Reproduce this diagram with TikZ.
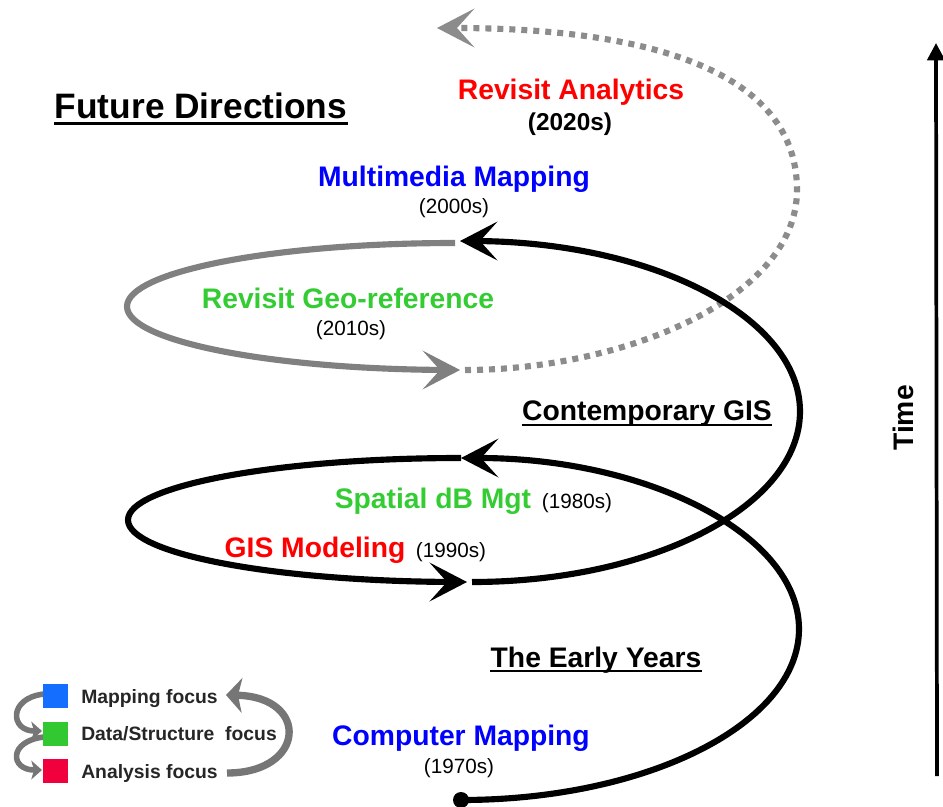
\documentclass[tikz,border=0pt]{standalone}
\usepackage{fontspec}
\setmainfont{Liberation Sans}
\usetikzlibrary{arrows.meta}
\definecolor{lblred}{RGB}{255,0,0}
\definecolor{lblblue}{RGB}{0,0,255}
\definecolor{lblgreen}{RGB}{51,204,51}
\definecolor{loopgray}{RGB}{128,128,128}
\definecolor{dotgray}{RGB}{140,140,140}
\definecolor{leggray}{RGB}{118,118,118}
\definecolor{sqblue}{RGB}{20,110,255}
\definecolor{sqgreen}{RGB}{50,200,50}
\definecolor{sqred}{RGB}{240,0,60}
\begin{document}
\begin{tikzpicture}[x=0.75pt,y=-0.75pt,
  spiral/.style={line width=4.6pt, draw=black},
  greyloop/.style={line width=4.6pt, draw=loopgray},
  dotloop/.style={line width=4.6pt, draw=dotgray, dash pattern=on 4.5pt off 4.5pt},
  barb/.style={-{Stealth[length=28pt,width=29pt,inset=13pt]}},
  lbl/.style={font=\fontsize{21.2}{25}\selectfont\bfseries, inner sep=0pt, anchor=base},
  era/.style={font=\fontsize{15.5}{18}\selectfont, inner sep=0pt, anchor=base},
  heading/.style={lbl, text=black},
  uline/.style={line width=1.6pt},
  legtext/.style={font=\fontsize{14.5}{17}\selectfont\bfseries, text=black!85, inner sep=0pt, anchor=base west},
  legbox/.style={minimum size=18.5pt, inner sep=0pt, draw=none},
  legarrow/.style={draw=leggray, line width=4.2pt, -{Stealth[length=8pt,width=14pt,inset=2pt]}},
  legbig/.style={draw=leggray, line width=5.5pt, -{Stealth[length=12pt,width=26pt,inset=3pt]}},
]
\useasboundingbox (0,0) rectangle (943,807);

% ---- dotted grey outer turn (future) ----
\coordinate (dS) at (465,370);
\coordinate (dR) at (797,190);
\coordinate (dE) at (437,28);
\draw[dotloop, barb] (dS) .. controls (620,370) and (797,300) .. (dR)
  .. controls (797,60) and (620,28) .. (dE);

% ---- solid grey loop ----
\coordinate (gS) at (455,243);
\coordinate (gE) at (460,370);
\draw[greyloop, barb] (gS) arc[start angle=-90, end angle=-270, x radius=328, y radius=63.5] -- (gE);

% ---- black spiral: early years ----
\coordinate (start) at (461,800);
\coordinate (eE) at (461,458);
\draw[spiral, barb] (start) arc[start angle=90, end angle=-90, x radius=338, y radius=171];
\fill (start) circle[radius=6pt];

% ---- black spiral: contemporary left loop ----
\coordinate (cS) at (461,458);
\coordinate (cM) at (461,582);
\coordinate (cE) at (467,582);
\draw[spiral, barb] (cS) arc[start angle=-90, end angle=-270, x radius=333, y radius=62] -- (cE);

% ---- black spiral: contemporary right turn ----
\coordinate (rS) at (472,582);
\coordinate (rE) at (460,241);
\draw[spiral, barb] (rS) arc[start angle=90, end angle=-90, x radius=328, y radius=170.5] -- (rE);

% ---- time axis ----
\coordinate (tb) at (937,776);
\coordinate (tt) at (936,43);
\draw[line width=2.8pt, -{Triangle[length=13pt,width=13pt]}] (tb) -- (tt);
\node[lbl, anchor=center, rotate=90] (time) at (903,418) {Time};

% ---- labels ----
\node[heading, font=\fontsize{26.5}{30}\selectfont\bfseries] (fd) at (201,118) {Future Directions};
\draw[line width=2.2pt] ([yshift=-3.8pt]fd.base west) -- ([yshift=-3.8pt]fd.base east);

\node[lbl, text=lblred] (ra) at (571,99) {Revisit Analytics};
\node[inner sep=0pt, anchor=base, font=\fontsize{18.3}{21}\selectfont\bfseries] (ray) at (570,130) {(2020s)};

\node[lbl, text=lblblue] (mm) at (454,186) {Multimedia Mapping};
\node[era] (mmy) at (454,213) {(2000s)};

\node[lbl, text=lblgreen] (rg) at (348,308) {Revisit Geo-reference};
\node[era] (rgy) at (351,335) {(2010s)};

\node[heading] (cg) at (647,420) {Contemporary GIS};
\draw[uline] ([yshift=-3.8pt]cg.base west) -- ([yshift=-3.8pt]cg.base east);

\node[lbl, text=lblgreen] (sd) at (433,508) {Spatial dB Mgt};
\node[era] (sdy) at (577,508) {(1980s)};

\node[lbl, text=lblred] (gm) at (315,557) {GIS Modeling};
\node[era] (gmy) at (451,557) {(1990s)};

\node[heading] (ey) at (596,667) {The Early Years};
\draw[uline] ([yshift=-3pt]ey.base west) -- ([yshift=-3pt]ey.base east);

\node[lbl, text=lblblue] (cm) at (461,745) {Computer Mapping};
\node[era] (cmy) at (459,773) {(1970s)};

% ---- legend ----
\coordinate (a1s) at (44,694);
\coordinate (a1e) at (42,731);
\coordinate (a2s) at (44,737);
\coordinate (a2e) at (42,770);
\coordinate (bs) at (227,773);
\coordinate (be) at (226,695);
\draw[legarrow] (a1s) .. controls (8,698) and (10,731) .. (a1e);
\draw[legarrow] (a2s) .. controls (8,741) and (10,770) .. (a2e);
\draw[legbig] (bs) .. controls (306,773) and (310,697) .. (be);

\node[legbox, fill=sqblue] (sqm) at (55.5,696) {};
\node[legbox, fill=sqgreen] (sqd) at (55.5,734) {};
\node[legbox, fill=sqred] (sqa) at (55.5,771) {};
\node[legtext] (lm) at (81,703) {Mapping focus};
\node[legtext] (ld) at (81,740) {Data/Structure\ \ focus};
\node[legtext] (la) at (81,778) {Analysis focus};
\end{tikzpicture}
\end{document}
